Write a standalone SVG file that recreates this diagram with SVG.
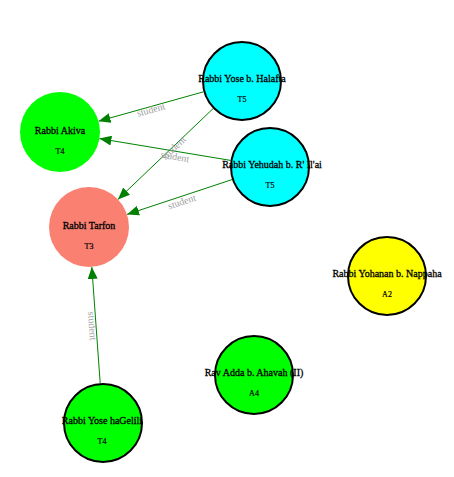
<svg xmlns="http://www.w3.org/2000/svg" width="454" height="477" viewBox="0 0 454 477">
<style>
.name{font-family:"Liberation Serif",serif;font-size:10px;fill:#000;stroke:#000;stroke-width:0.3;text-anchor:middle}
.tier{font-family:"Liberation Serif",serif;font-size:8px;fill:#000;stroke:#000;stroke-width:0.2;text-anchor:middle}
.edge{stroke:#008000;stroke-width:1;fill:none}
.lbl{font-family:"Liberation Serif",serif;font-size:10px;fill:#a0a0a0;text-anchor:middle}
.ol{stroke:#000;stroke-width:2}
</style>
<defs>
<marker id="arr" markerUnits="userSpaceOnUse" markerWidth="12" markerHeight="10" refX="12" refY="5" orient="auto">
<path d="M0,0 L12,5 L0,10 z" fill="#008000"/>
</marker>
</defs>
<rect width="454" height="477" fill="#fff"/>
<g id="edges">
<line class="edge" x1="203.5" y1="91.8" x2="98.5" y2="121.2" marker-end="url(#arr)"/>
<line class="edge" x1="213.1" y1="108.6" x2="117.9" y2="199.4" marker-end="url(#arr)"/>
<line class="edge" x1="230.6" y1="160.4" x2="99.4" y2="138.6" marker-end="url(#arr)"/>
<line class="edge" x1="232" y1="179.6" x2="127" y2="214.4" marker-end="url(#arr)"/>
<line class="edge" x1="100.2" y1="383.1" x2="91.8" y2="267" marker-end="url(#arr)"/>
<text class="lbl" transform="translate(151,110) rotate(-15.6)" y="3">student</text>
<text class="lbl" transform="translate(174,148) rotate(-43.6)" y="3">student</text>
<text class="lbl" transform="translate(175,157) rotate(9.5)" y="3">student</text>
<text class="lbl" transform="translate(182,202) rotate(-18.3)" y="3">student</text>
<text class="lbl" transform="translate(92,326) rotate(86)" y="3">student</text>
</g>
<g id="n-akiva">
<circle cx="60" cy="132" r="40" fill="#00ff00"/>
<text class="name" x="60" y="134">Rabbi Akiva</text>
<text class="tier" x="60" y="154">T4</text>
</g>
<g id="n-tarfon">
<circle cx="89" cy="227" r="40" fill="#fa8072"/>
<text class="name" x="89" y="229">Rabbi Tarfon</text>
<text class="tier" x="89" y="249">T3</text>
</g>
<g id="n-halafta">
<circle class="ol" cx="242" cy="81" r="39" fill="#00ffff"/>
<text class="name" x="242" y="82">Rabbi Yose b. Halafta</text>
<text class="tier" x="242" y="102">T5</text>
</g>
<g id="n-yehudah">
<circle class="ol" cx="270" cy="167" r="39" fill="#00ffff"/>
<text class="name" x="272" y="168">Rabbi Yehudah b. R' Il'ai</text>
<text class="tier" x="270" y="188">T5</text>
</g>
<g id="n-yohanan">
<circle class="ol" cx="387" cy="276" r="39" fill="#ffff00"/>
<text class="name" x="387" y="277">Rabbi Yohanan b. Nappaha</text>
<text class="tier" x="387" y="297">A2</text>
</g>
<g id="n-adda">
<circle class="ol" cx="254" cy="375" r="39" fill="#00ff00"/>
<text class="name" x="254" y="376">Rav Adda b. Ahavah (II)</text>
<text class="tier" x="254" y="396">A4</text>
</g>
<g id="n-haglili">
<circle class="ol" cx="103" cy="423" r="39" fill="#00ff00"/>
<text class="name" x="102" y="424">Rabbi Yose haGelili</text>
<text class="tier" x="102" y="444">T4</text>
</g>
</svg>
